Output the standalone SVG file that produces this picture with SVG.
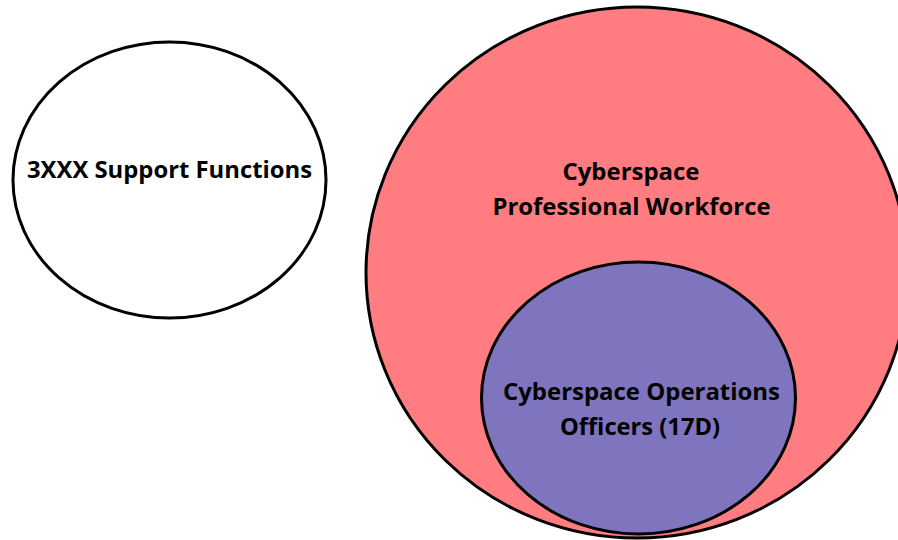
<svg xmlns="http://www.w3.org/2000/svg" width="898" height="540" viewBox="0 0 898 540">
<style>
.shape{stroke:#000;stroke-width:3}
.lbl{font-family:"Open Sans","Liberation Sans",sans-serif;font-weight:bold;font-size:23.5px;fill:#000;text-anchor:middle}
</style>
<rect width="898" height="540" fill="#fff"/>
<g id="support">
<ellipse class="shape" cx="169.5" cy="180" rx="156.5" ry="138" fill="#fff"/>
<text class="lbl" x="169.5" y="178" textLength="285" lengthAdjust="spacingAndGlyphs">3XXX Support Functions</text>
</g>
<g id="workforce">
<ellipse class="shape" cx="637" cy="272.5" rx="271" ry="265.5" fill="#FF7C80"/>
<text class="lbl" x="631" y="180" textLength="137" lengthAdjust="spacingAndGlyphs">Cyberspace</text>
<text class="lbl" x="631.5" y="214.5" textLength="278" lengthAdjust="spacingAndGlyphs">Professional Workforce</text>
</g>
<g id="officers">
<ellipse class="shape" cx="638.5" cy="398" rx="157" ry="136" fill="#7F74BE"/>
<text class="lbl" x="641.5" y="400" textLength="277" lengthAdjust="spacingAndGlyphs">Cyberspace Operations</text>
<text class="lbl" x="640" y="435" textLength="160" lengthAdjust="spacingAndGlyphs">Officers (17D)</text>
</g>
<g id="connectors"/>
</svg>
